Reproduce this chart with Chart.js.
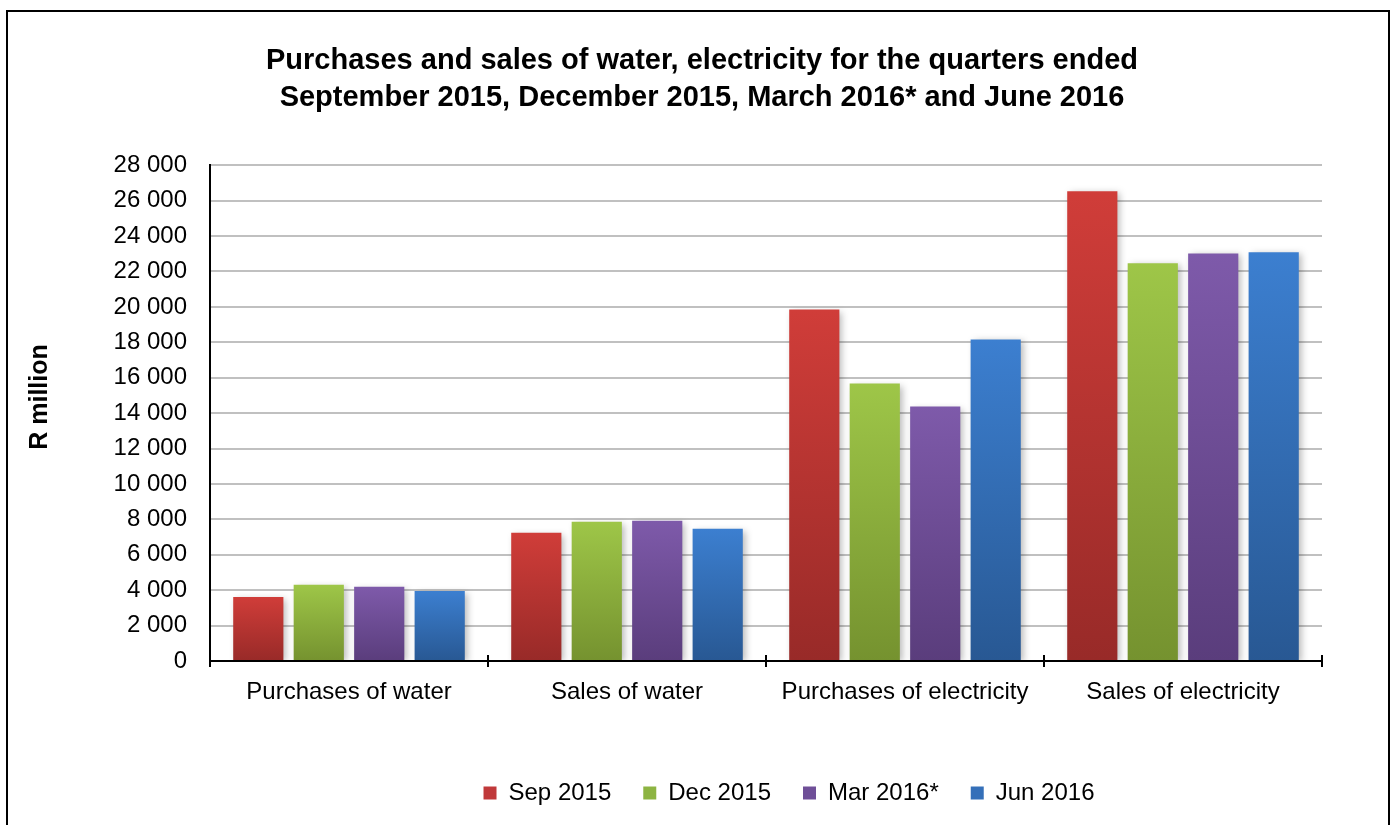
<!DOCTYPE html>
<html>
<head>
<meta charset="utf-8">
<script src="https://cdn.jsdelivr.net/npm/chart.js@4/dist/chart.umd.min.js"></script>
<style>
  html, body { margin: 0; padding: 0; background: #fff; }
  #wrap { position: relative; width: 1394px; height: 825px; overflow: hidden; }
  #frame { position: absolute; left: 6px; top: 10px; width: 1384px; height: 840px;
           border: 2px solid #000; box-sizing: border-box; }
  canvas { position: absolute; left: 0; top: 0; }
</style>
</head>
<body>
<div id="wrap">
  <div id="frame"></div>
  <canvas id="chart" width="1394" height="825"></canvas>
</div>
<script>
// chart data
const categories = ['Purchases of water', 'Sales of water', 'Purchases of electricity', 'Sales of electricity'];
const quarters = ['Sep 2015', 'Dec 2015', 'Mar 2016*', 'Jun 2016'];
const sep2015 = [3620, 7240, 19850, 26530];
const dec2015 = [4300, 7860, 15670, 22460];
const mar2016 = [4190, 7920, 14370, 23020];
const jun2016 = [3960, 7470, 18160, 23080];

// top / bottom colours of each bar gradient
const barColors = [
    { top: '#d03d39', bottom: '#982a28', legend: '#c0393a' },
    { top: '#9ec648', bottom: '#75922f', legend: '#8db442' },
    { top: '#7e5aaa', bottom: '#5a3d7c', legend: '#6f4f98' },
    { top: '#3c7fd0', bottom: '#285893', legend: '#3570b9' }
];

const FONT = '"Liberation Sans", Arial, sans-serif';

function formatThousands(v) {
    return v.toString().replace(/\B(?=(\d{3})+(?!\d))/g, ' ');
}

function barGradient(context, colors) {
    const chart = context.chart;
    const yScale = chart.scales.y;
    if (!chart.chartArea || !yScale || context.raw === undefined) {
        return colors.legend;
    }
    const top = yScale.getPixelForValue(context.raw);
    const base = yScale.getPixelForValue(0);
    const g = chart.ctx.createLinearGradient(0, top, 0, base);
    g.addColorStop(0, colors.top);
    g.addColorStop(1, colors.bottom);
    return g;
}

// soft drop shadow under the bars
const barShadow = {
    id: 'barShadow',
    beforeDatasetsDraw(chart) {
        const ctx = chart.ctx;
        ctx.save();
        ctx.shadowColor = 'rgba(0, 0, 0, 0.28)';
        ctx.shadowBlur = 7;
        ctx.shadowOffsetX = 3;
        ctx.shadowOffsetY = 2;
    },
    afterDatasetsDraw(chart) {
        chart.ctx.restore();
    }
};

// title and legend sit right of centre in the original, the y title a bit high,
// and the x ticks cross the axis line
const layoutTweaks = {
    id: 'layoutTweaks',
    afterLayout(chart) {
        chart.legend.left += 118;
        chart.legend.right += 118;
        chart.titleBlock.left += 31;
        chart.titleBlock.right += 31;
    },
    afterDraw(chart) {
        const x = chart.scales.x;
        const ctx = chart.ctx;
        const half = (x.getPixelForValue(1) - x.getPixelForValue(0)) / 2;
        ctx.save();
        ctx.strokeStyle = '#000';
        ctx.lineWidth = 2;
        ctx.beginPath();
        for (let i = 0; i <= categories.length; i++) {
            const px = Math.round(x.getPixelForValue(0) - half + i * half * 2);
            ctx.moveTo(px, x.top - 6);
            ctx.lineTo(px, x.top);
        }
        ctx.stroke();

        // y axis title
        ctx.translate(40, 397);
        ctx.rotate(-Math.PI / 2);
        ctx.fillStyle = '#000';
        ctx.font = 'bold 25px ' + FONT;
        ctx.textAlign = 'center';
        ctx.textBaseline = 'middle';
        ctx.fillText('R million', 0, 0);
        ctx.restore();
    }
};

const seriesValues = [sep2015, dec2015, mar2016, jun2016];

const datasets = quarters.map((label, i) => ({
    label: label,
    data: seriesValues[i],
    backgroundColor: (context) => barGradient(context, barColors[i]),
    borderWidth: 0,
    categoryPercentage: 0.87,
    barPercentage: 0.83
}));

new Chart(document.getElementById('chart').getContext('2d'), {
    type: 'bar',
    data: { labels: categories, datasets: datasets },
    plugins: [barShadow, layoutTweaks],
    options: {
        responsive: false,
        animation: false,
        layout: { padding: { left: 20, right: 72, top: 22, bottom: 10 } },
        plugins: {
            title: {
                display: true,
                text: ['Purchases and sales of water, electricity for the quarters ended',
                       'September 2015, December 2015, March 2016* and June 2016'],
                color: '#000',
                font: { family: FONT, size: 29, weight: 'bold', lineHeight: 1.28 },
                padding: { top: 20, bottom: 49 }
            },
            legend: {
                position: 'bottom',
                labels: {
                    color: '#000',
                    font: { family: FONT, size: 24 },
                    boxWidth: 13,
                    boxHeight: 13,
                    padding: 32,
                    generateLabels: () => quarters.map((q, i) => ({
                        text: q,
                        fillStyle: barColors[i].legend,
                        strokeStyle: barColors[i].legend,
                        lineWidth: 0,
                        datasetIndex: i
                    }))
                }
            },
            tooltip: { enabled: false }
        },
        scales: {
            x: {
                afterFit: (scale) => { scale.height = 88; },
                border: { display: true, color: '#000', width: 2 },
                grid: {
                    offset: true,
                    drawOnChartArea: false,
                    drawTicks: true,
                    tickLength: 6,
                    color: '#000',
                    lineWidth: 2
                },
                ticks: {
                    color: '#000',
                    font: { family: FONT, size: 24 },
                    padding: 11,
                    maxRotation: 0
                }
            },
            y: {
                min: 0,
                max: 28000,
                afterFit: (scale) => { scale.width = 190; },
                border: { display: true, color: '#000', width: 2 },
                grid: {
                    color: '#c0c0c0',
                    lineWidth: 2,
                    drawTicks: false
                },
                ticks: {
                    stepSize: 2000,
                    color: '#000',
                    font: { family: FONT, size: 24 },
                    padding: 23,
                    callback: (v) => formatThousands(v)
                }
            }
        }
    }
});
</script>
</body>
</html>
